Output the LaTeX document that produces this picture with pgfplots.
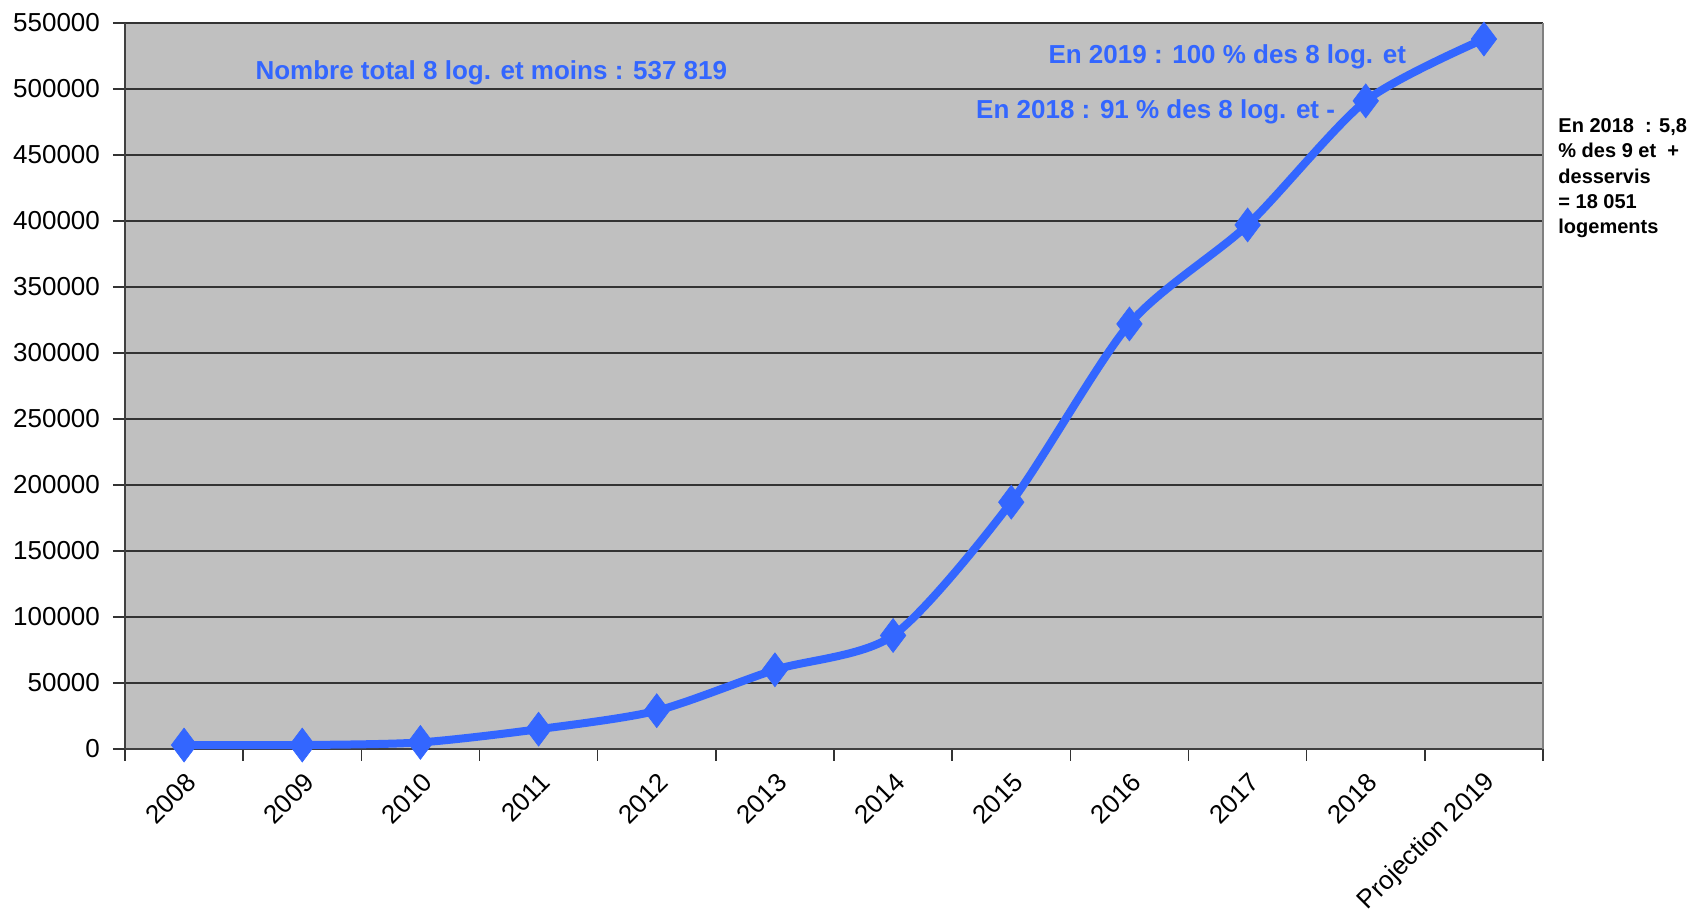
\documentclass[border=0pt]{standalone}
\usepackage{fontspec}
\setmainfont{Liberation Sans}
\usepackage{pgfplots}
\pgfplotsset{compat=1.18}
\definecolor{bgray}{HTML}{C0C0C0}
\definecolor{lblue}{HTML}{3366FF}
\begin{document}
\begin{tikzpicture}
\begin{axis}[
  scale only axis,
  width=709pt, height=363pt,
  xmin=-0.5, xmax=11.5,
  ymin=0, ymax=550000,
  ytick distance=50000,
  xtick={0,...,11},
  xticklabels={2008,2009,2010,2011,2012,2013,2014,2015,2016,2017,2018,Projection 2019},
  minor xtick={-0.5,0.5,...,11.5},
  major x tick style={draw=none},
  minor x tick style={black!80, line width=0.8pt},
  tick align=outside,
  major tick length=6pt, minor tick length=6pt,
  y tick style={black!80, line width=0.8pt},
  ymajorgrids,
  major grid style={black!80, line width=1.1pt},
  axis background/.style={fill=bgray},
  axis line style={black!75, line width=1pt},
  axis y line*=left, axis x line*=bottom,
  clip=false,
  /pgf/number format/assume math mode=true,
  /pgf/number format/fixed,
  /pgf/number format/precision=0,
  /pgf/number format/set thousands separator={},
  scaled y ticks=false,
  yticklabel style={font=\fontsize{13}{15}\selectfont, xshift=-3pt},
  xticklabel style={font=\fontsize{13}{15}\selectfont, rotate=45, anchor=east, xshift=0pt, yshift=-8.5pt},
]
\draw[black!50, line width=1pt] (rel axis cs:1,0) -- (rel axis cs:1,1);
\addplot[color=lblue, line width=4pt, smooth, tension=0.45, mark=diamond*, mark size=8.5pt, mark options={solid, line width=0.3pt, fill=lblue}]
coordinates {
(0,3000) (1,3000) (2,5000) (3,15000) (4,29000) (5,60000) (6,86000) (7,187000) (8,322000) (9,397000) (10,491000) (11,537819)
};
\node[text=lblue, font=\bfseries\fontsize{13}{15}\selectfont] at (axis cs:2.6,512000) {Nombre total 8 log. et moins : 537 819};
\node[text=lblue, font=\bfseries\fontsize{13}{15}\selectfont, anchor=east] at (axis cs:10.4,524000) {En 2019 : 100 \% des 8 log. et};
\node[text=lblue, font=\bfseries\fontsize{13}{15}\selectfont, anchor=east] at (axis cs:9.8,483000) {En 2018 : 91 \% des 8 log. et -};
\node[anchor=north west, align=left, font=\bfseries\fontsize{10}{12.7}\selectfont, inner sep=0pt] at ([xshift=7.5pt, yshift=-47.5pt]rel axis cs:1,1) {En 2018~~: 5,8\\\% des 9 et~~+\\desservis\\= 18 051\\logements};
\coordinate (bl) at (rel axis cs:0,0);
\coordinate (tr) at (rel axis cs:1,1);
\end{axis}
\pgfresetboundingbox
\path[use as bounding box] ([xshift=-62.5pt,yshift=-82pt]bl) rectangle ([xshift=73.5pt,yshift=11.5pt]tr);
\end{tikzpicture}
\end{document}
